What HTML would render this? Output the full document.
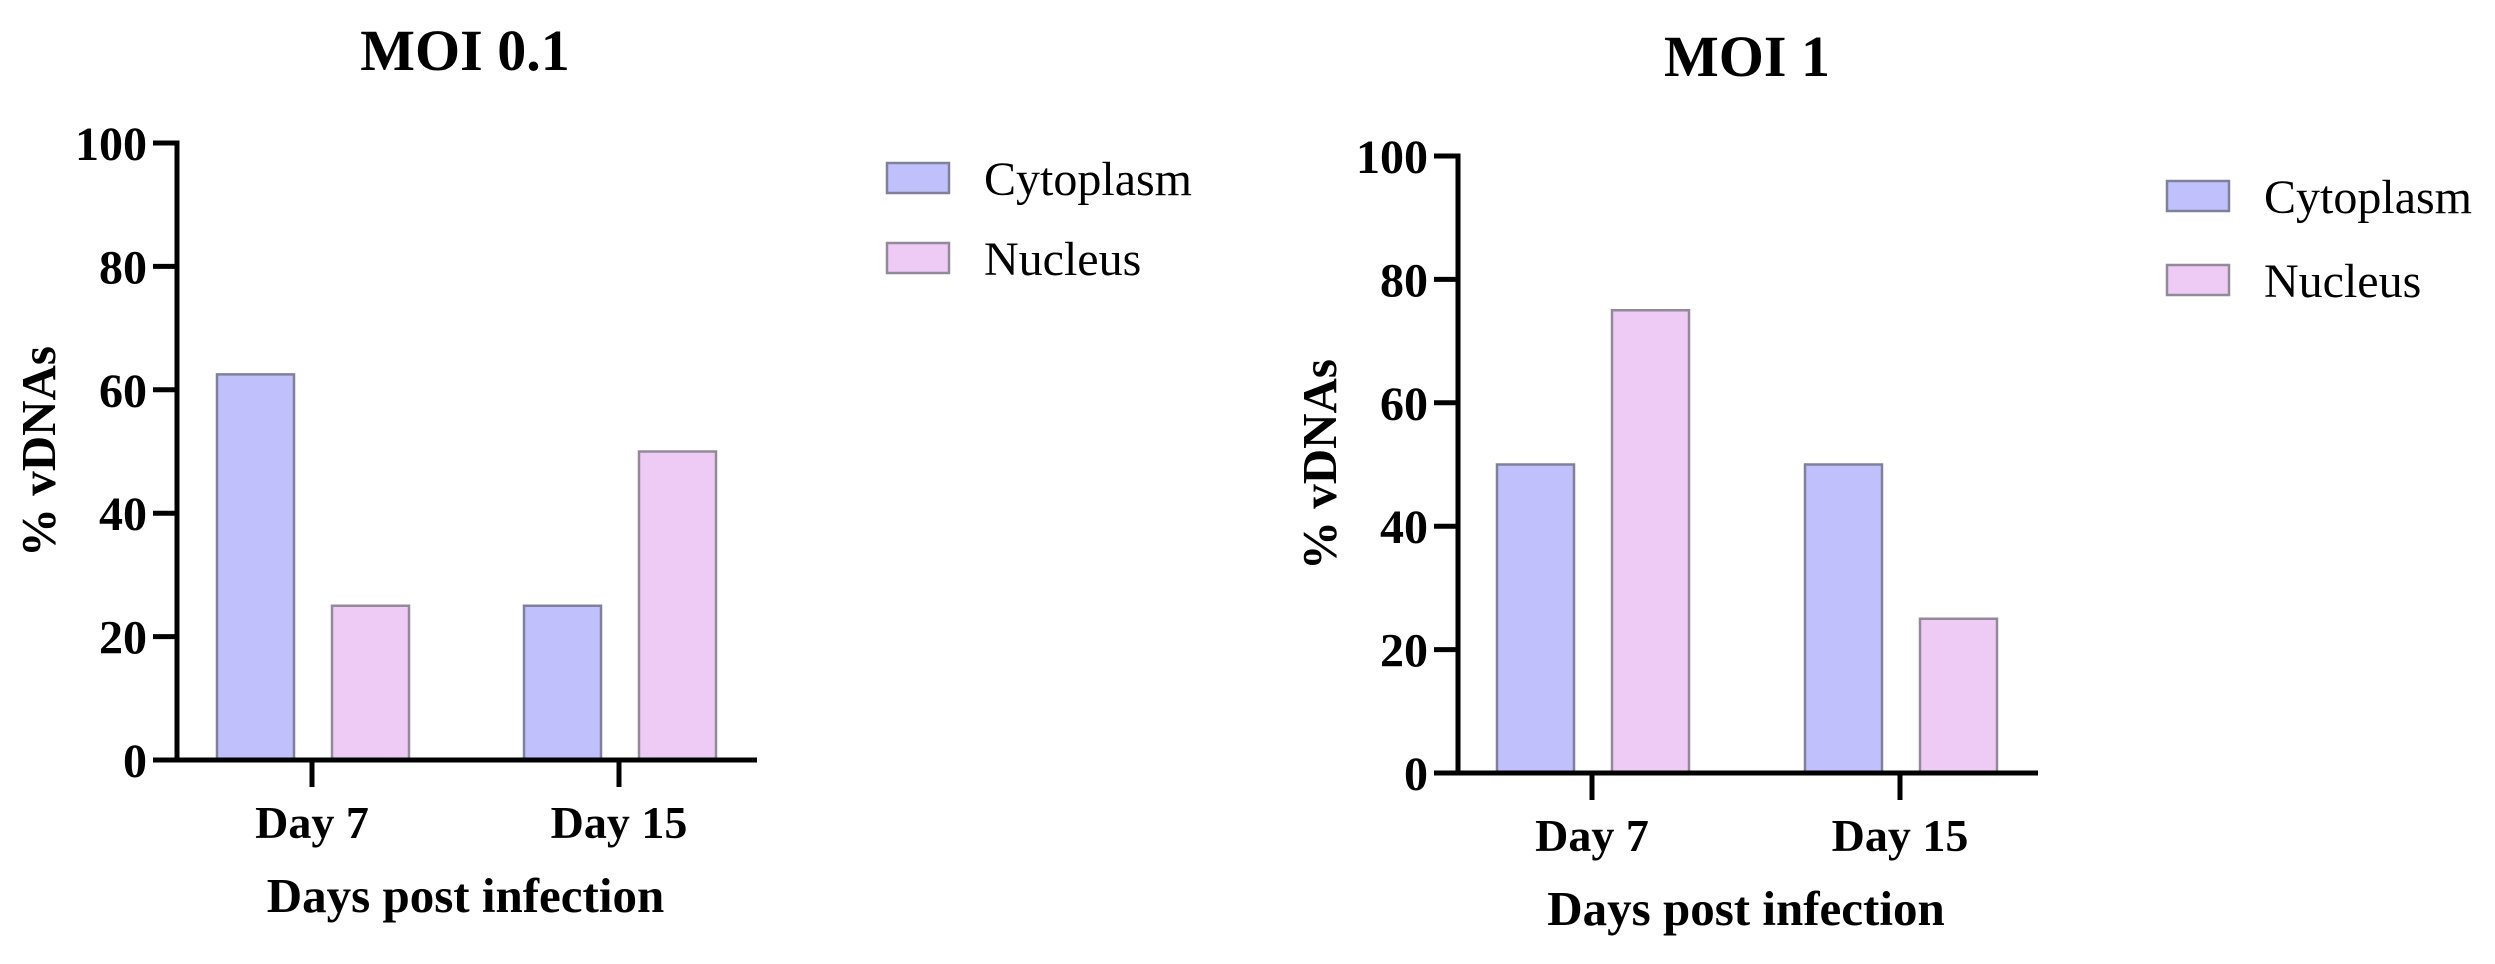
<!DOCTYPE html>
<html><head><meta charset="utf-8"><style>
html,body{margin:0;padding:0;background:#fff;}
svg{display:block;font-family:"Liberation Serif",serif;}
</style></head><body>
<svg id="fig" width="2495" height="964" viewBox="0 0 2495 964" xmlns="http://www.w3.org/2000/svg"></svg>
<script>
const categories = ["Day 7", "Day 15"];
const seriesNames = ["Cytoplasm", "Nucleus"];
const moi01Cytoplasm = [62.5, 25];
const moi01Nucleus = [25, 50];
const moi1Cytoplasm = [50, 50];
const moi1Nucleus = [75, 25];
const yTicks = [0, 20, 40, 60, 80, 100];
const chartTitles = ["MOI 0.1", "MOI 1"];

const NS = "http://www.w3.org/2000/svg";
const svg = document.getElementById("fig");
const fills = ["#c0c0fc", "#eecbf5"];
const strokes = ["#80809a", "#928a98"];

function mk(tag, attrs, parent) {
  const e = document.createElementNS(NS, tag);
  for (const k in attrs) e.setAttribute(k, attrs[k]);
  parent.appendChild(e);
  return e;
}

function drawChart(cfg) {
  const g = mk("g", {}, svg);
  
  
  const yScale = v => cfg.y0 - (v / 100) * (cfg.y0 - cfg.y100);
  const xCenter = i => cfg.c0 + i * cfg.step;

  const t = mk("text", {x: cfg.titleX, y: cfg.titleY, "text-anchor": "middle", "font-size": 58, "font-weight": "bold"}, g);
  t.textContent = cfg.title;
  
  

  cfg.series.forEach((vals, s) => {
    vals.forEach((v, i) => {
      const left = xCenter(i) + (s === 0 ? -95 : 20);
      const top = yScale(v);
      const r = mk("rect", {x: left, y: top, width: 77, height: cfg.y0 - top, fill: fills[s], stroke: strokes[s], "stroke-width": 2.5}, g);
      
      
    });
  });

  const ya = mk("line", {x1: cfg.ax, y1: cfg.y100 - 2.5, x2: cfg.ax, y2: cfg.y0 + 2.5, stroke: "#000", "stroke-width": 5}, g);
  
  
  yTicks.forEach(v => {
    const y = yScale(v);
    const tk = mk("line", {x1: cfg.ax - 24, y1: y, x2: cfg.ax, y2: y, stroke: "#000", "stroke-width": 5}, g);
    
    
    const lb = mk("text", {x: cfg.ax - 30, y: y + 17, "text-anchor": "end", "font-size": 48, "font-weight": "bold"}, g);
    lb.textContent = v;
    
    
  });

  const xa = mk("line", {x1: cfg.ax - 24, y1: cfg.y0, x2: cfg.xEnd, y2: cfg.y0, stroke: "#000", "stroke-width": 5}, g);
  
  
  categories.forEach((c, i) => {
    const x = xCenter(i);
    const tk = mk("line", {x1: x, y1: cfg.y0, x2: x, y2: cfg.y0 + 27, stroke: "#000", "stroke-width": 5}, g);
    
    
    const lb = mk("text", {x: x, y: cfg.y0 + 78, "text-anchor": "middle", "font-size": 46, "font-weight": "bold"}, g);
    lb.textContent = c;
    
    
  });

  const xt = mk("text", {x: (xCenter(0) + xCenter(1)) / 2, y: cfg.y0 + 152, "text-anchor": "middle", "font-size": 49, "font-weight": "bold"}, g);
  xt.textContent = "Days post infection";
  
  

  const cy = (cfg.y0 + cfg.y100) / 2;
  const yt = mk("text", {x: 0, y: 0, "text-anchor": "middle", "font-size": 49, "font-weight": "bold", transform: "translate(" + (cfg.ax - 122) + "," + cy + ") rotate(-90)"}, g);
  yt.textContent = "% vDNAs";
  
  

  seriesNames.forEach((n, s) => {
    const top = cfg.legY + s * cfg.legStep;
    const lr = mk("rect", {x: cfg.legX, y: top, width: 62, height: 30, fill: fills[s], stroke: strokes[s], "stroke-width": 2.5}, g);
    
    
    const lt = mk("text", {x: cfg.legX + 97, y: top + 32, "font-size": 48}, g);
    lt.textContent = n;
    
    
  });
}

drawChart({name: "chart-moi-0-1", title: chartTitles[0], titleX: 465, titleY: 70,
  ax: 177, y0: 760, y100: 143, c0: 312, step: 307, xEnd: 757,
  series: [moi01Cytoplasm, moi01Nucleus], legX: 887, legY: 163, legStep: 80});
drawChart({name: "chart-moi-1", title: chartTitles[1], titleX: 1747, titleY: 76,
  ax: 1458, y0: 773, y100: 156, c0: 1592, step: 308, xEnd: 2038,
  series: [moi1Cytoplasm, moi1Nucleus], legX: 2167, legY: 181, legStep: 84});
</script>
</body></html>
